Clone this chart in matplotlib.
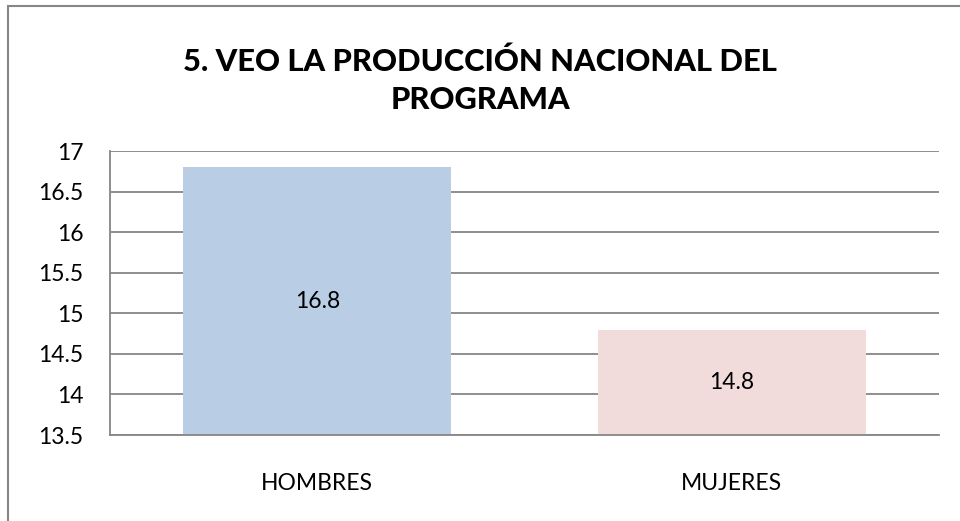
import numpy as np
import matplotlib.pyplot as plt
from matplotlib.patches import Rectangle

# data
categories = ['HOMBRES', 'MUJERES']
values = [16.8, 14.8]
bar_colors = ['#B9CDE5', '#F2DCDB']
yticks = [13.5, 14, 14.5, 15, 15.5, 16, 16.5, 17]
title = '5. VEO LA PRODUCCIÓN NACIONAL DEL\nPROGRAMA'

plt.rcParams['font.family'] = ['Lato', 'DejaVu Sans']

fig = plt.figure(figsize=(9.6, 5.21), dpi=100)
ax = fig.add_axes([110/960, 1-435/521, (939-110)/960, (435-151)/521])

x = np.arange(len(categories))
bars = ax.bar(x, values, width=0.647, color=bar_colors, bottom=0, zorder=2)
ax.set_xlim(-0.5, 1.5)
ax.set_ylim(13.5, 17)
ax.set_yticks(yticks)
ax.set_yticklabels([('%g' % t) for t in yticks])
ax.set_xticks(x)
ax.set_xticklabels(categories)
ax.tick_params(axis='both', length=0, labelsize=16.5, colors='black')
ax.tick_params(axis='y', pad=19)
ax.tick_params(axis='x', pad=27)

ax.yaxis.grid(True, color='#868686', linewidth=1.3, zorder=1)
ax.set_axisbelow(True)
for s in ['top', 'right']:
    ax.spines[s].set_visible(False)
ax.spines['left'].set_color('#868686')
ax.spines['left'].set_linewidth(1.3)
ax.spines['bottom'].set_color('#868686')
ax.spines['bottom'].set_linewidth(1.3)

for b, v in zip(bars, values):
    ax.text(b.get_x() + b.get_width()/2, (13.5 + v)/2, '%g' % v,
            ha='center', va='center', fontsize=16.5, zorder=3)

fig.text(480/960, 1-81/521, title, ha='center', va='center',
         fontsize=22.2, fontweight='black', linespacing=1.45)

# outer chart border (only top and left are inside the picture)
fig.patches.append(Rectangle((8/960, -0.1), 1.1, 1-6/521+0.1, transform=fig.transFigure,
                             fill=False, edgecolor='#868686', linewidth=1.5))

fig.savefig('out.png', dpi=100)
